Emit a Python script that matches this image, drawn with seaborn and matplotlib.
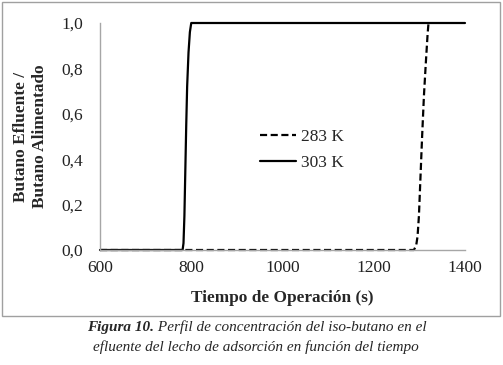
import numpy as np
import pandas as pd
import seaborn as sns
import matplotlib.pyplot as plt
from matplotlib.patches import Rectangle

# Data
t_303 = [600, 781, 783, 785, 787, 789, 791, 794, 797, 800, 1400]
c_303 = [0.0, 0.0, 0.03, 0.15, 0.35, 0.55, 0.72, 0.87, 0.96, 1.0, 1.0]
t_283 = [600, 1288, 1293, 1296, 1299, 1302, 1306, 1310, 1314, 1318, 1320]
c_283 = [0.0, 0.0, 0.02, 0.06, 0.15, 0.3, 0.5, 0.68, 0.82, 0.95, 1.0]
series = ["283 K", "303 K"]
x_ticks = [600, 800, 1000, 1200, 1400]
y_ticks = [0.0, 0.2, 0.4, 0.6, 0.8, 1.0]

df = pd.concat([
    pd.DataFrame({"t": t_283, "c": c_283, "serie": series[0]}),
    pd.DataFrame({"t": t_303, "c": c_303, "serie": series[1]}),
])

sns.set_style("white")
plt.rcParams["font.family"] = ["Liberation Serif", "DejaVu Serif"]

fig = plt.figure(figsize=(5.03, 3.65), dpi=100)
ax = fig.add_axes([100 / 503, 1 - 250 / 365, 365 / 503, 227 / 365])

sns.lineplot(
    data=df, x="t", y="c", style="serie", style_order=series,
    dashes={"283 K": (3.2, 1.6), "303 K": ""},
    color="black", linewidth=1.6, ax=ax, estimator=None, sort=False,
)
for ln in ax.lines:
    ln.set_clip_on(False)

ax.set_xlim(600, 1400)
ax.set_ylim(0, 1)
ax.set_xticks(x_ticks)
ax.set_yticks(y_ticks)
ax.set_yticklabels([f"{v:.1f}".replace(".", ",") for v in y_ticks])
ax.tick_params(length=0, labelsize=12.5, colors="#222222")
ax.tick_params(axis="x", pad=7)
ax.tick_params(axis="y", pad=12)

for side in ["top", "right"]:
    ax.spines[side].set_visible(False)
for side in ["left", "bottom"]:
    ax.spines[side].set_color("#a6a6a6")
    ax.spines[side].set_linewidth(1.0)

ax.set_xlabel("Tiempo de Operación (s)", fontsize=12.4, fontweight="bold", labelpad=10)
ax.set_ylabel("Butano Efluente /\nButano Alimentado", fontsize=12.4, fontweight="bold",
              labelpad=10, linespacing=1.2)

ax.legend(frameon=False, loc="center left", bbox_to_anchor=(0.395, 0.44),
          fontsize=12.5, handlelength=2.1, handletextpad=0.25, labelspacing=0.55)

# outer frame of the chart
fig.patches.append(Rectangle((2 / 503, 1 - 316 / 365), 498 / 503, 314 / 365,
                             transform=fig.transFigure, fill=False,
                             edgecolor="#a0a0a0", linewidth=1.0))

# caption
t1 = fig.text(87 / 503, 1 - 331 / 365, "Figura 10.", fontsize=11, style="italic",
              fontweight="bold", va="baseline")
ax.annotate(" Perfil de concentración del iso-butano en el", xy=(1, 0),
            xycoords=t1, va="bottom", fontsize=11, style="italic",
            annotation_clip=False)
fig.text(0.5 * (94 + 418) / 503, 1 - 351 / 365,
         "efluente del lecho de adsorción en función del tiempo",
         fontsize=11, style="italic", ha="center", va="baseline")

fig.savefig("out.png", dpi=100)
